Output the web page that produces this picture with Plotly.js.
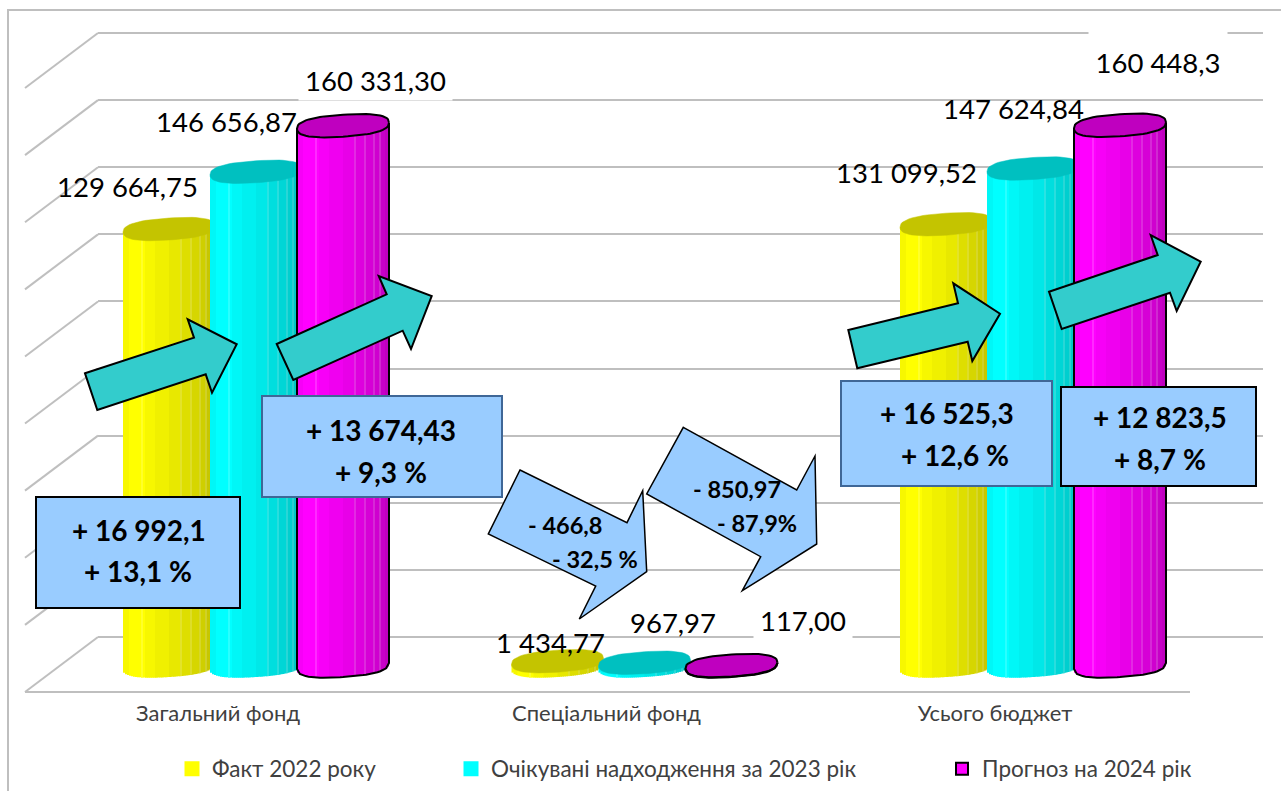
<!DOCTYPE html>
<html>
<head>
<meta charset="utf-8">
<script src="https://cdn.plot.ly/plotly-3.0.1.min.js"></script>
<style>html,body{margin:0;padding:0;background:#fff;overflow:hidden}</style>
</head>
<body>
<div id="chart" style="width:1281px;height:791px"></div>
<script>
// ---- data ----
const categories = ['Загальний фонд', 'Спеціальний фонд', 'Усього бюджет'];
const seriesNames = ['Факт 2022 року', 'Очікувані надходження за 2023 рік', 'Прогноз на 2024 рік'];
const fact2022 = [129664.75, 1434.77, 131099.52];
const expected2023 = [146656.87, 967.97, 147624.84];
const forecast2024 = [160331.30, 117.00, 160448.3];
const labels2022 = ['129 664,75', '1 434,77', '131 099,52'];
const labels2023 = ['146 656,87', '967,97', '147 624,84'];
const labels2024 = ['160 331,30', '117,00', '160 448,3'];

// ---- styling / geometry (pixels of the 1281x791 picture) ----
const W = 1281, H = 791;
const FONT = 'Lato, Carlito, Calibri, sans-serif';
const GREY = '#BFBFBF';
const baseColours = [[255,255,0],[0,255,255],[255,0,255]];
const topColours = ['#C4C400', '#00C0C0', '#BF00BF'];
const stripeEdges = [0,.065,.135,.245,.355,.495,.62,.73,.83,.90,.955,1];
const stripeShades = [.97,1,1,.97,.94,.91,.87,.84,.81,.78,.75];
const seamEdges = [.2,.62,.73,.83,.90];
const pxPerGroup = 388.5, pxPerThousand = 3.37, groupCentrePx = 256, zeroPx = 666;
const cylSpacing = 87, cylHalf = 46, ellipseRy = 11, ellipseTilt = 3, ellipseP = 2.5;

const yFrac = p => 1 - p / H, xFrac = p => p / W;
const xUnits = p => p / pxPerGroup;
const yUnits = p => p / pxPerThousand * 1000;
const shade = (c, s, mix) => { mix = mix || 0;
  return 'rgb(' + c.map(v => Math.round(v * s * (1 - mix) + 255 * mix)).join(',') + ')'; };
const halfHeight = u => ellipseRy * Math.pow(Math.max(0, 1 - Math.pow(Math.abs(u), ellipseP)), 1 / ellipseP);

const series = [fact2022, expected2023, forecast2024];
const seriesLabels = [labels2022, labels2023, labels2024];
const groups = categories.map((c, i) => i);
const legendIds = ['legend', 'legend2', 'legend3'];
const traces = [];

// grid subplot needs a trace so its axes get drawn
traces.push({type:'scatter', mode:'lines', x:[0,1], y:[0,0], xaxis:'x', yaxis:'y',
  line:{width:0}, showlegend:false, hoverinfo:'skip'});

series.forEach((vals, s) => {
  const centre = (s - 1) * cylSpacing;
  const z = 2 * s + 1;
  // the series bar itself
  traces.push({type:'bar', name:seriesNames[s], x:groups, y:vals, xaxis:'x2', yaxis:'y2',
    width:xUnits(cylHalf * 1.1), offset:xUnits(centre - cylHalf * .55),
    marker:{color:shade(baseColours[s], 1), line:{color:s === 2 ? '#000' : shade(baseColours[s], 1), width:s === 2 ? 2 : 3}},
    legend:legendIds[s], zorder:z, hovertemplate:'%{y}<extra>' + seriesNames[s] + '</extra>'});

  // shaded slices of the cylinder
  const sx = [], sy = [], sb = [], so = [], sw = [], sc = [];
  const lowerEdge = u => halfHeight(u) - ellipseTilt * u;
  const slice = (g, left, width, colour) => {
    const u = ((left + width / 2) / cylHalf) - 1;
    const b = -yUnits(lowerEdge(u));
    const t = vals[g] + yUnits(ellipseTilt * u);
    sx.push(g); sb.push(b); sy.push(t - b);
    so.push(xUnits(centre - cylHalf + left)); sw.push(xUnits(width)); sc.push(colour);
  };
  groups.forEach(g => {
    const step = 2, full = 2 * cylHalf;
    for (let l = 0; l < full; l += step) {
      const f = (l + step / 2) / full;
      let k = stripeEdges.findIndex((e, i) => f >= e && f < stripeEdges[i + 1]);
      if (k < 0) k = stripeShades.length - 1;
      slice(g, l, Math.min(step + .5, full - l), shade(baseColours[s], stripeShades[k]));
    }
    seamEdges.forEach(e => {
      const k = stripeEdges.findIndex((v, i) => e >= v && e < stripeEdges[i + 1]);
      slice(g, e * full, 1, shade(baseColours[s], stripeShades[k], .16));
    });
  });
  traces.push({type:'bar', x:sx, y:sy, base:sb, offset:so, width:sw, xaxis:'x2', yaxis:'y2',
    marker:{color:sc, line:{width:0}}, showlegend:false, hoverinfo:'skip', zorder:z});

  // top faces (and outline for the last series)
  const ex = [], ey = [];
  groups.forEach(g => {
    for (let a = 0; a <= 60; a++) {
      const t = a / 60 * 2 * Math.PI, u = Math.cos(t);
      const sgn = Math.sin(t) >= 0 ? 1 : -1;
      ex.push(g + xUnits(centre + cylHalf * u));
      ey.push(vals[g] + yUnits(ellipseTilt * u + sgn * halfHeight(u)));
    }
    ex.push(null); ey.push(null);
  });
  traces.push({type:'scatter', mode:'lines', x:ex, y:ey, xaxis:'x2', yaxis:'y2', fill:'toself',
    fillcolor:topColours[s], line:{color:s === 2 ? '#000' : topColours[s], width:s === 2 ? 2 : 0.5},
    showlegend:false, hoverinfo:'skip', zorder:z + 1});

  if (s === 2) {
    const ox = [], oy = [];
    groups.forEach(g => {
      ox.push(g + xUnits(centre - cylHalf)); oy.push(vals[g] + yUnits(-ellipseTilt));
      for (let a = 0; a <= 32; a++) {
        const u = -1 + a / 16;
        ox.push(g + xUnits(centre + cylHalf * u));
        oy.push(-yUnits(halfHeight(u) - ellipseTilt * u));
      }
      ox.push(g + xUnits(centre + cylHalf)); oy.push(vals[g] + yUnits(ellipseTilt));
      ox.push(null); oy.push(null);
    });
    traces.push({type:'scatter', mode:'lines', x:ox, y:oy, xaxis:'x2', yaxis:'y2',
      line:{color:'#000', width:2}, showlegend:false, hoverinfo:'skip', zorder:z + 2});
  }
});

// ---- value labels: [x px, y px, box w, box h] of each label centre ----
const labelPlaces = [
  [[127.5,186],[550,643],[906,173]],
  [[226.5,121],[673,622],[1013,109]],
  [[375.5,80,151,38],[803,620,96,38],[1158,62,136,60]]
];
const annotations = [];
series.forEach((vals, s) => groups.forEach(g => {
  const p = labelPlaces[s][g];
  const cx = groupCentrePx + g * pxPerGroup + (s - 1) * cylSpacing;
  const vy = zeroPx - vals[g] * pxPerThousand / 1000;
  const a = {xref:'x2', yref:'y2', x:g + xUnits((s - 1) * cylSpacing), y:vals[g],
    xshift:p[0] - cx, yshift:vy - p[1], text:seriesLabels[s][g], showarrow:false,
    xanchor:'center', yanchor:'middle', font:{family:FONT, size:27.5, color:'#000'}};
  if (p[2]) { a.bgcolor = '#fff'; a.width = p[2]; a.height = p[3]; a.align = 'center'; }
  annotations.push(a);
}));

// ---- callouts ----
const boxFill = '#99CCFF', teal = '#33CCCC', blueEdge = '#3F6797';
const calloutBoxes = [
  {r:[36,497,240,608], edge:'#000'},
  {r:[262,396,502,497], edge:blueEdge},
  {r:[841,381,1052,486], edge:blueEdge},
  {r:[1061,387,1256,486], edge:'#000'}
];
const calloutTexts = [
  ['+ 16 992,1',139,530,28],['+ 13,1 %',138,571,28],
  ['+ 13 674,43',381,430,28],['+ 9,3 %',381,472,28],
  ['+ 16 525,3',947,413,28],['+ 12,6 %',955,455,28],
  ['+ 12 823,5',1160,417,28],['+ 8,7 %',1160,459,28],
  ['- 466,8',565,525,23.5],['- 32,5 %',595,559,23.5],
  ['- 850,97',737,489,23.5],['- 87,9%',757,523,23.5]
];
const tealArrows = [
  [[85,373.3],[194,337.7],[187.7,319.3],[236.7,344.3],[212,392.7],[205.7,374.3],[97.3,410]],
  [[276.7,344],[386.7,294.3],[378.7,276],[431.7,296],[411,349],[402.7,330.7],[293.3,380]],
  [[848.3,330],[958,303.3],[953.3,283.3],[1000,313.7],[972.3,361],[967.7,341.7],[857.3,368.3]],
  [[1049,291.7],[1157.7,255],[1150.7,235],[1200.7,261.7],[1176.7,311],[1170,292.7],[1061.7,329]]
];
const blueArrows = [
  [[520,470],[627,522.7],[642.7,490.7],[646.7,571.7],[579.3,619],[595.7,586],[488.3,534]],
  [[683.3,427.3],[796.7,490],[815,456],[816.7,544],[742.3,590.7],[760.7,556.7],[646.7,494]]
];
const poly = pts => 'M' + pts.map(p => xFrac(p[0]).toFixed(5) + ',' + yFrac(p[1]).toFixed(5)).join('L') + 'Z';
const shapes = [];
// frame
shapes.push({type:'path', xref:'paper', yref:'paper', layer:'below',
  path:'M' + xFrac(8) + ',' + yFrac(791) + 'L' + xFrac(8) + ',' + yFrac(10) + 'L' + xFrac(1281) + ',' + yFrac(10),
  line:{color:GREY, width:2}});
// front edge of the floor
shapes.push({type:'line', xref:'paper', yref:'paper', layer:'below',
  x0:xFrac(25), y0:yFrac(692), x1:xFrac(1190), y1:yFrac(692), line:{color:GREY, width:2}});
// side wall and floor diagonals
const gridTicks = [0,20000,40000,60000,80000,100000,120000,140000,160000,180000];
const gridTopPx = 33, gridZeroPx = 637;
gridTicks.forEach(v => {
  const py = gridZeroPx - v / 180000 * (gridZeroPx - gridTopPx);
  shapes.push({type:'line', xref:'paper', yref:'paper', layer:'below',
    x0:xFrac(98), y0:yFrac(py), x1:xFrac(25), y1:yFrac(py + 55), line:{color:GREY, width:2}});
});
tealArrows.forEach(a => shapes.push({type:'path', xref:'paper', yref:'paper', path:poly(a),
  fillcolor:teal, line:{color:'#000', width:2}}));
blueArrows.forEach(a => shapes.push({type:'path', xref:'paper', yref:'paper', path:poly(a),
  fillcolor:boxFill, line:{color:'#000', width:1.5}}));
calloutBoxes.forEach(b => shapes.push({type:'rect', xref:'paper', yref:'paper',
  x0:xFrac(b.r[0]), y0:yFrac(b.r[3]), x1:xFrac(b.r[2]), y1:yFrac(b.r[1]),
  fillcolor:boxFill, line:{color:b.edge, width:2}}));
calloutTexts.forEach(t => annotations.push({xref:'paper', yref:'paper', x:xFrac(t[1]), y:yFrac(t[2]),
  text:t[0], showarrow:false, xanchor:'center', yanchor:'middle',
  font:{family:FONT, size:t[3], color:'#000', weight:700}}));

// ---- axes ----
const gridPxPerUnit = (gridZeroPx - gridTopPx) / 180000;
const gridMargin = 1000;
const legendFont = {family:FONT, size:22.5, color:'#404040'};
const legendAt = x => ({x:xFrac(x), y:yFrac(769), xanchor:'left', yanchor:'middle', orientation:'h',
  bgcolor:'rgba(0,0,0,0)', borderwidth:0, font:legendFont, indentation:-12, itemclick:false, itemdoubleclick:false});

const layout = {
  width:W, height:H, autosize:false, margin:{l:0, r:0, t:0, b:0},
  paper_bgcolor:'#fff', plot_bgcolor:'rgba(0,0,0,0)', barmode:'overlay', hovermode:'closest',
  xaxis:{domain:[xFrac(98), xFrac(1263)], range:[0,1], showgrid:false, showticklabels:false, ticks:'', zeroline:false, showline:false, fixedrange:true},
  yaxis:{domain:[yFrac(gridZeroPx + gridMargin * gridPxPerUnit), yFrac(gridTopPx - gridMargin * gridPxPerUnit)],
    range:[-gridMargin, 180000 + gridMargin], tick0:0, dtick:20000, showgrid:true, gridcolor:GREY, gridwidth:2,
    showticklabels:false, ticks:'', zeroline:false, showline:false, fixedrange:true},
  xaxis2:{domain:[xFrac(25), xFrac(1190)], anchor:'y2',
    range:[xUnits(25 - groupCentrePx), xUnits(1190 - groupCentrePx)],
    tickmode:'array', tickvals:groups.map(g => g - xUnits(38)), ticktext:categories,
    ticks:'', ticklabelstandoff:6, tickfont:{family:FONT, size:22, color:'#404040'},
    showgrid:false, zeroline:false, showline:false, fixedrange:true},
  yaxis2:{domain:[yFrac(692), yFrac(10)], anchor:'x2',
    range:[yUnits(zeroPx - 692), yUnits(zeroPx - 10)], visible:false, showgrid:false, zeroline:false, fixedrange:true},
  legend:legendAt(184), legend2:legendAt(463), legend3:legendAt(954),
  shapes:shapes, annotations:annotations, showlegend:true
};
Plotly.newPlot('chart', traces, layout, {displayModeBar:false, responsive:false});
</script>
</body>
</html>
